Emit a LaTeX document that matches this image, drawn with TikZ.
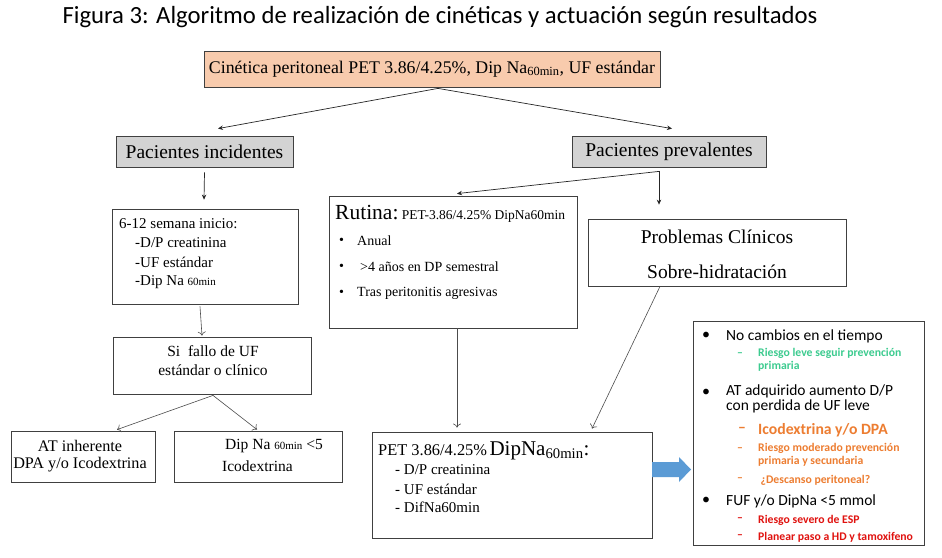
\documentclass[tikz,border=0pt]{standalone}
\usepackage{fontspec}
\setmainfont{Liberation Serif}
\newfontfamily\calfont{Carlito}
\usetikzlibrary{arrows.meta,calc}
\definecolor{peach}{HTML}{F8CBAD}
\definecolor{grayfill}{HTML}{D3D3D3}
\definecolor{edge}{HTML}{404040}
\definecolor{blockblue}{HTML}{5B9BD5}
\definecolor{mint}{HTML}{3CCB8F}
\definecolor{orng}{HTML}{ED7D31}
\definecolor{redt}{HTML}{E0120F}
\tikzset{
  box/.style={draw=edge, line width=0.8pt, inner sep=0pt, rectangle},
  txt/.style={inner sep=0pt, anchor=west, align=left},
  ctxt/.style={inner sep=0pt, align=center},
  arrF/.style={draw=black!85, line width=0.7pt, -{Stealth[length=5pt,width=4.5pt]}},
  arrO/.style={draw=black!70, line width=0.6pt, -{To[length=4pt,width=8pt]}},
  fs/.style={font=\fontsize{#1}{#1}\selectfont},
  cal/.style={font=\calfont\fontsize{#1}{#1}\selectfont},
  smallb/.style={txt, font=\calfont\bfseries\fontsize{11.7}{13.3}\selectfont},
}
\begin{document}
\begin{tikzpicture}[x=1pt,y=-1pt]
\fill[white] (0,0) rectangle (942,557);
\path[use as bounding box] (0,0) rectangle (942,557);

% title
\node[ctxt, cal=24.7] (title) at (440,17) {Figura 3: Algoritmo de realización de cinéticas y actuación según resultados};

% boxes
\node[box, fill=peach, minimum width=456pt, minimum height=36pt, fs=17.8] (top) at (432,69)
  {Cinética peritoneal PET 3.86/4.25\%, Dip Na\textsubscript{60min}, UF estándar};
\node[box, fill=grayfill, minimum width=177pt, minimum height=31pt, fs=19.5] (inc) at (204.5,151.5) {Pacientes incidentes};
\node[box, fill=grayfill, minimum width=194pt, minimum height=31pt, fs=19.5] (prev) at (669,151.5) {Pacientes prevalentes};
\node[box, minimum width=186pt, minimum height=95pt] (six) at (205,256.5) {};
\node[box, minimum width=248pt, minimum height=132pt] (rut) at (453,262) {};
\node[box, minimum width=258pt, minimum height=67pt] (prob) at (717,252.5) {};
\node[box, minimum width=198pt, minimum height=57pt] (fallo) at (212,365.5) {};
\node[box, minimum width=144pt, minimum height=51pt] (at) at (83,456.5) {};
\node[box, minimum width=168pt, minimum height=51pt] (dip) at (258,456.5) {};
\node[box, minimum width=280pt, minimum height=106pt] (pet) at (512,485) {};
\node[box, fill=white, minimum width=231pt, minimum height=224pt] (right) at (808.5,433) {};

% texts: 6-12 box
\node[txt, fs=15] (s1) at (119,224) {6-12 semana inicio:};
\node[txt, fs=15] (s2) at (135,243) {-D/P creatinina};
\node[txt, fs=15] (s3) at (135,262) {-UF estándar};
\node[txt, fs=15] (s4) at (135,282) {-Dip Na {\fontsize{11}{11}\selectfont 60min}};

% Rutina
\node[inner sep=0pt, anchor=base west] (r0) at (335,219) {{\fontsize{21.5}{21.5}\selectfont Rutina:} {\fontsize{13.5}{13.5}\selectfont PET-3.86/4.25\% DipNa60min}};
\node[txt, fs=14] (rb1) at (339,241) {•};
\node[txt, fs=14] (rb2) at (339,267) {•};
\node[txt, fs=14] (rb3) at (339,293) {•};
\node[txt, fs=14] (r1) at (357,241) {Anual};
\node[txt, fs=14] (r2) at (360,267) {>4 años en DP semestral};
\node[txt, fs=14] (r3) at (357,293) {Tras peritonitis agresivas};

% Problemas
\node[ctxt, fs=19.5] (p1) at (717,236.5) {Problemas Clínicos};
\node[ctxt, fs=19.5] (p2) at (717,271.5) {Sobre-hidratación};

% Si fallo
\node[ctxt, fs=15.5] (f1) at (213,351.5) {Si\ \ fallo de UF};
\node[ctxt, fs=15.5] (f2) at (213,370) {estándar o clínico};

% AT / Dip
\node[ctxt, fs=16.2] (a1) at (80,446) {AT inherente};
\node[ctxt, fs=16.2] (a2) at (80,465) {DPA y/o Icodextrina};
\node[txt, fs=15.5] (d1) at (225,446) {Dip Na {\fontsize{11}{11}\selectfont 60min} <5};
\node[txt, fs=15.5] (d2) at (222,466) {Icodextrina};

% PET box
\node[inner sep=0pt, anchor=base west] (q0) at (378,455) {{\fontsize{16.4}{16.4}\selectfont PET 3.86/4.25\%} {\fontsize{21}{21}\selectfont DipNa\textsubscript{60min}:}};
\node[txt, fs=15] (q1) at (395,470) {- D/P creatinina};
\node[txt, fs=15] (q2) at (395,489) {- UF estándar};
\node[txt, fs=15] (q3) at (395,507) {- DifNa60min};

% right box
\node[txt, cal=16] (b1) at (702,336) {•};
\node[txt, cal=16] (b2) at (702,393) {•};
\node[txt, cal=16] (b3) at (702,501) {•};
\node[txt, cal=15.5] (t1) at (726,336) {No cambios en el tiempo};
\node[smallb, text=mint] (g0) at (737,355) {–};
\node[smallb, text=mint, anchor=north west] (g1) at (758,348) {Riesgo leve seguir prevención\\primaria};
\node[txt, cal=15.5, anchor=north west] (t2) at (726,385) {AT adquirido aumento D/P\\[-1pt]con perdida de UF leve};
\node[txt, font=\calfont\bfseries\fontsize{15.7}{15.7}\selectfont, text=orng] (o0) at (738,430) {–};
\node[txt, font=\calfont\bfseries\fontsize{15.7}{15.7}\selectfont, text=orng] (o1) at (758,430) {Icodextrina y/o DPA};
\node[smallb, text=orng] (o2a) at (737,450) {–};
\node[smallb, text=orng, anchor=north west] (o2) at (758,443) {Riesgo moderado prevención\\primaria y secundaria};
\node[smallb, text=orng] (o3a) at (737,480) {–};
\node[smallb, text=orng] (o3) at (760.5,480) {¿Descanso peritoneal?};
\node[txt, cal=15.5] (t3) at (726,501) {FUF y/o DipNa <5 mmol};
\node[smallb, text=redt] (e1a) at (737,520) {–};
\node[smallb, text=redt] (e1) at (758,520) {Riesgo severo de ESP};
\node[smallb, text=redt] (e2a) at (737,537) {–};
\node[smallb, text=redt] (e2) at (758,537) {Planear paso a HD y tamoxifeno};

% connectors
\coordinate (topout) at ($(top.south)+(6,1)$);
\draw[arrF] (topout) -- ($(inc.north)+(13.5,-7)$);
\draw[arrF] (topout) -- ($(prev.north)+(3,-7)$);
\draw[arrF] ($(inc.south)+(0,5)$) -- ($(six.north)+(-1,-9)$);
\coordinate (prevout) at ($(prev.south)+(-10,4)$);
\draw[arrF] (prevout) -- ($(rut.north)+(4,-2)$);
\draw[arrF] (prevout) -- ($(prob.north)+(-58,-14)$);
\draw[arrO] ($(six.south)+(-5,2)$) -- ($(fallo.north)+(-10,-1)$);
\coordinate (falloout) at ($(fallo.south)+(1,1)$);
\draw[arrO] (falloout) -- ($(at.north)+(34,-1)$);
\draw[arrO] (falloout) -- ($(dip.north)+(-1,-1)$);
\draw[arrO] ($(rut.south)+(4,0)$) -- ($(pet.north)+(-55,-4)$);
\draw[arrO] ($(prob.south)+(-57,0)$) -- ($(pet.north)+(80,-3)$);

% block arrow
\fill[blockblue] (652,462) -- (679,462) -- (679,457) -- (691,469.5) -- (679,482) -- (679,477) -- (652,477) -- cycle;
\end{tikzpicture}
\end{document}
